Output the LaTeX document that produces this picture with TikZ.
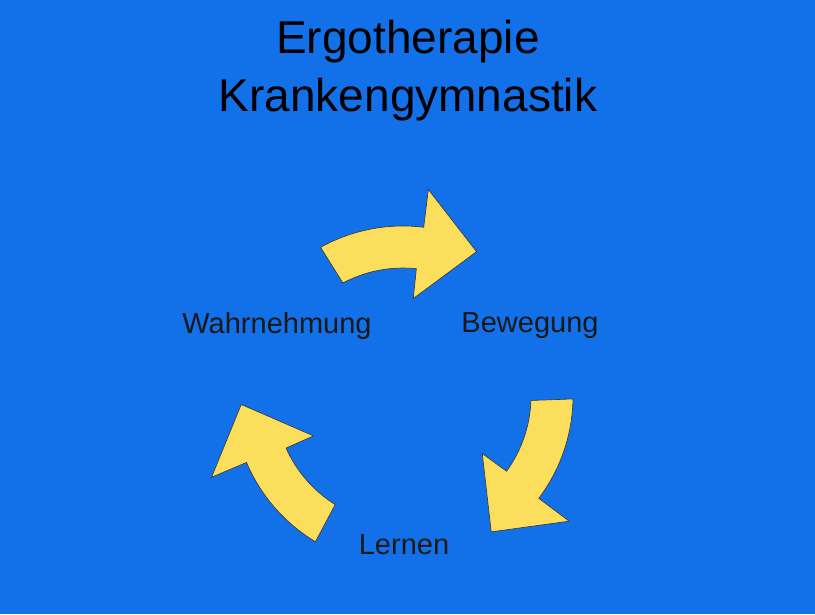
\documentclass[tikz,border=0pt]{standalone}
\usepackage{fontspec}
\setmainfont{Liberation Sans}
\definecolor{slideblue}{RGB}{18,112,232}
\definecolor{arrowyellow}{RGB}{250,222,92}
\tikzset{
  blockarrow/.style={fill=arrowyellow, draw=black!80, line width=0.6pt, line join=miter},
  label/.style={font=\fontsize{29}{34}\selectfont, text=black!90},
}
\begin{document}
\begin{tikzpicture}[x=1pt,y=1pt]
    \fill[slideblue] (0,-614) rectangle (815,0);
    \useasboundingbox (0,-614) rectangle (815,0);
    \node (title) at (408,-42) {\fontsize{46}{50}\selectfont Ergotherapie};
    \node (title2) at (408,-100) {\fontsize{46}{50}\selectfont Krankengymnastik};
    \coordinate (c) at (403,-396);
    \node[label] (wahr) at (277,-326) {Wahrnehmung};
    \node[label] (beweg) at (530,-326) {Bewegung};
    \node[label] (lern) at (404,-545) {Lernen};
    % three curved arrows around the centre
    \foreach \r in {0,-120,-240} {
      \begin{scope}[shift={(c)},rotate=\r]
        \draw[blockarrow] (119:170) arc[start angle=119,end angle=83,radius=170]
          -- (83:208) -- (63:162) -- (84:98) -- (84:128)
          arc[start angle=84,end angle=118,radius=128] -- cycle;
      \end{scope}
    }
\end{tikzpicture}
\end{document}
